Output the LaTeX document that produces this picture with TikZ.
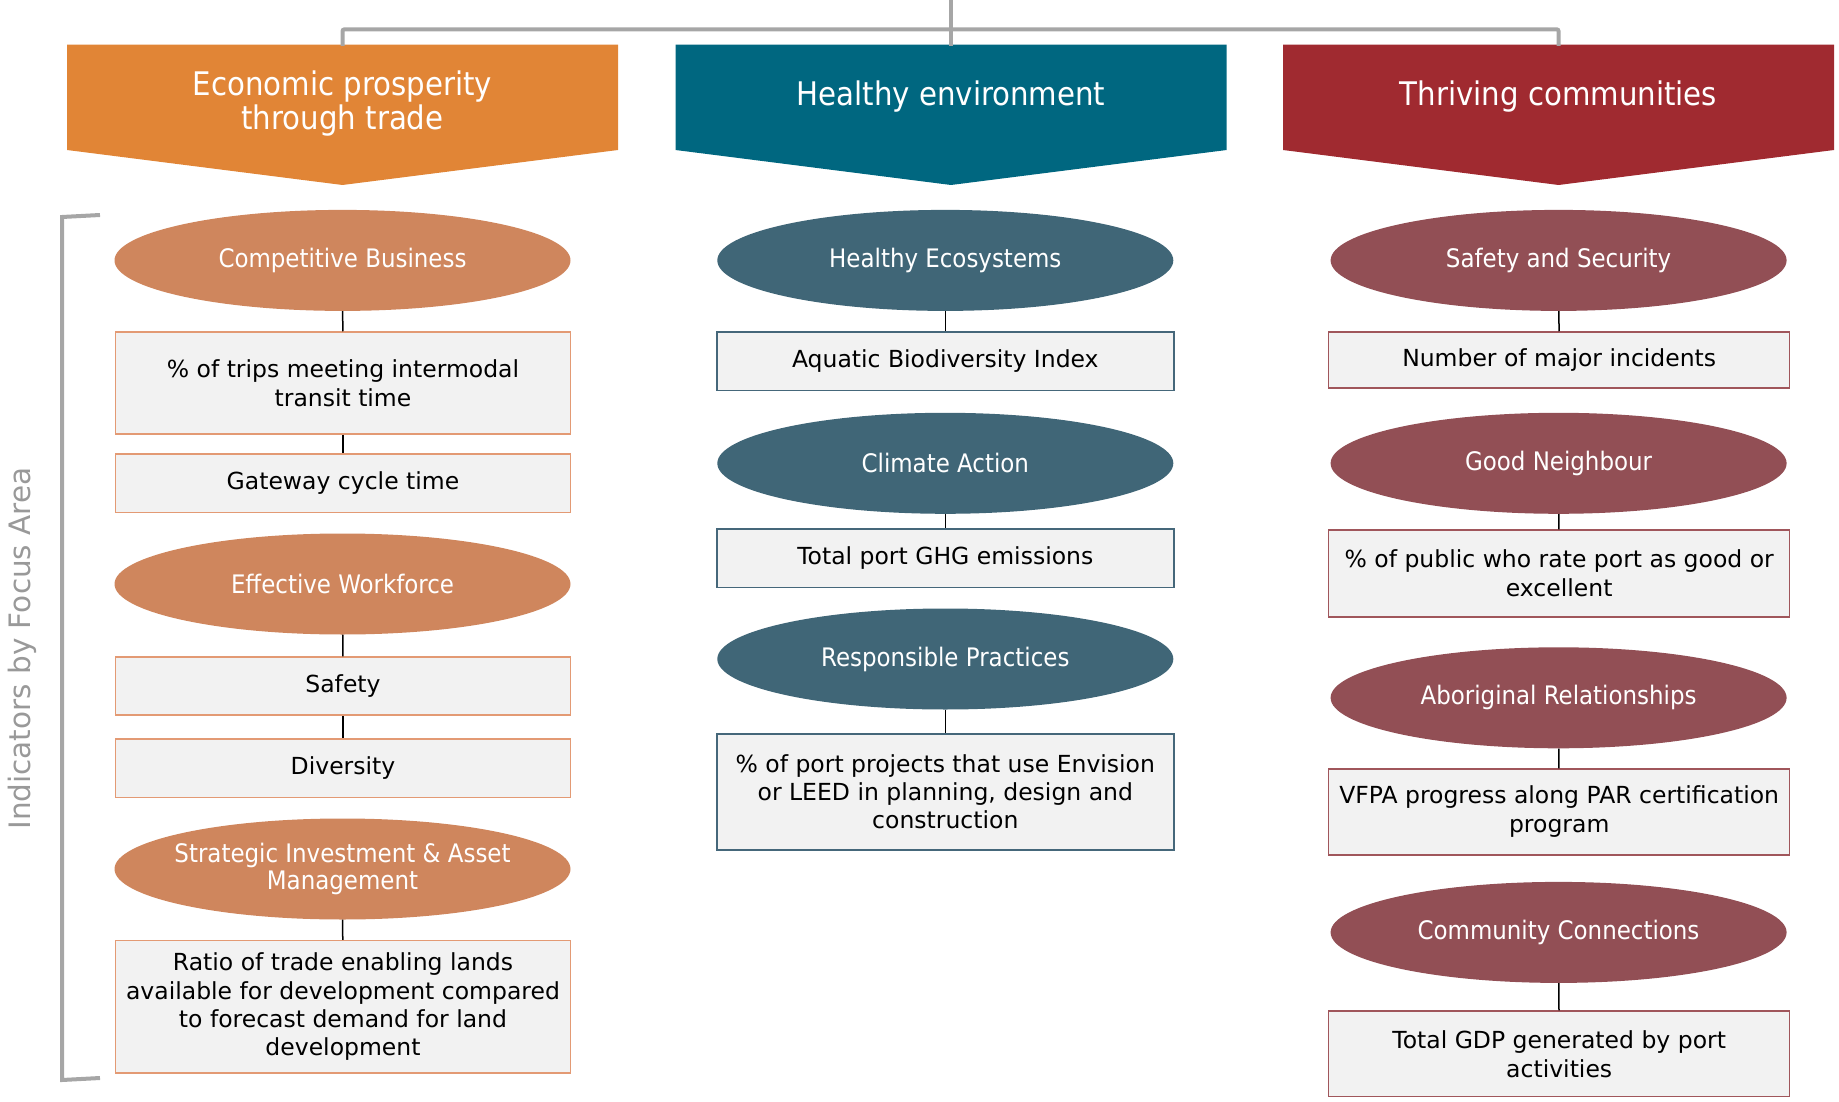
\documentclass[tikz,border=0pt]{standalone}
\usepackage{fontspec}
\setmainfont{DejaVu Sans}
\newfontfamily\condfont{DejaVu Sans Condensed}
\usetikzlibrary{shapes.geometric}
\definecolor{orH}{HTML}{E18536}
\definecolor{teH}{HTML}{006780}
\definecolor{reH}{HTML}{A02A30}
\definecolor{orE}{HTML}{CF865D}
\definecolor{teE}{HTML}{406677}
\definecolor{reE}{HTML}{924F55}
\definecolor{orB}{HTML}{E39A74}
\definecolor{teB}{HTML}{45677A}
\definecolor{reB}{HTML}{A0565B}
\definecolor{boxfill}{HTML}{F2F2F2}
\definecolor{greyline}{HTML}{A6A6A6}
\definecolor{greytext}{HTML}{999999}
\begin{document}
\begin{tikzpicture}[x=1pt,y=-1pt,
  hdrtext/.style={text=white, align=center, font=\condfont\fontsize{32.5}{34}\selectfont},
  ell/.style={ellipse, minimum width=456pt, minimum height=101pt, inner sep=0pt, text=white, align=center, font=\condfont\fontsize{25.5}{27}\selectfont},
  ind/.style={rectangle, fill=boxfill, line width=1.5pt, minimum width=455pt, inner sep=0pt, align=center, font=\fontsize{23.5}{29}\selectfont},
  link/.style={draw=black, line width=1.5pt},
  grey/.style={draw=greyline, line width=4pt}
]
\useasboundingbox (0,0) rectangle (1839,1102);

% chevrons
\fill[orH] (67,44.6) -- (618,44.6) -- (618,150) -- (342.5,185) -- (67,150) -- cycle;
\fill[teH] (675.5,44.6) -- (1226.7,44.6) -- (1226.7,150) -- (951,185) -- (675.5,150) -- cycle;
\fill[reH] (1283,44.6) -- (1834,44.6) -- (1834,150) -- (1558.6,185) -- (1283,150) -- cycle;

\node[hdrtext] (h1) at (342.5,104) {Economic prosperity\\through trade};
\node[hdrtext] (h2) at (951,97) {Healthy environment};
\node[hdrtext] (h3) at (1558.6,97) {Thriving communities};

% top connector
\coordinate (top) at (951,0);
\coordinate (c1) at (342.5,46);
\coordinate (c2) at (951,46);
\coordinate (c3) at (1558.6,46);
\draw[grey] (top) -- (c2);
\draw[grey, rounded corners=2pt] (c1) -- (342.5,29.3) -- (1558.6,29.3) -- (c3);

% bracket
\coordinate (bt) at (100,215);
\coordinate (bb) at (100,1078);
\draw[grey] (bt) -- (62,217) -- (62,1080) -- (bb);
\node[rotate=90, text=greytext, font=\fontsize{29.5}{32}\selectfont] (lbl) at (22.5,648.6) {Indicators by Focus Area};

% column 1
\node[ell, fill=orE] (e11) at (342.5,260.4) {Competitive Business};
\node[ind, draw=orB, minimum height=102pt] (b11) at (343,383) {\% of trips meeting intermodal\\transit time};
\node[ind, draw=orB, minimum height=58.5pt] (b12) at (343,483.2) {Gateway cycle time};
\node[ell, fill=orE] (e12) at (342.5,584) {Effective Workforce};
\node[ind, draw=orB, minimum height=58pt] (b13) at (343,686) {Safety};
\node[ind, draw=orB, minimum height=58.5pt] (b14) at (343,768.2) {Diversity};
\node[ell, fill=orE, inner xsep=-60pt] (e13) at (342.5,869) {Strategic Investment \& Asset\\Management};
\node[ind, draw=orB, minimum height=132.4pt, font=\fontsize{23.5}{28.2}\selectfont] (b15) at (343,1006.8) {Ratio of trade enabling lands\\available for development compared\\to forecast demand for land\\development};
\draw[link] (e11) -- (b11);
\draw[link] (b11) -- (b12);
\draw[link] (e12) -- (b13);
\draw[link] (b13) -- (b14);
\draw[link] (e13) -- (b15);

% column 2
\node[ell, fill=teE] (e21) at (945.3,260.4) {Healthy Ecosystems};
\node[ind, draw=teB, minimum width=457pt, minimum height=58.5pt] (b21) at (945.3,361.2) {Aquatic Biodiversity Index};
\node[ell, fill=teE] (e22) at (945.3,463.3) {Climate Action};
\node[ind, draw=teB, minimum width=457pt, minimum height=58.6pt] (b22) at (945.3,558.3) {Total port GHG emissions};
\node[ell, fill=teE] (e23) at (945.3,659) {Responsible Practices};
\node[ind, draw=teB, minimum width=457pt, minimum height=116pt, font=\fontsize{23.5}{28.2}\selectfont] (b23) at (945.3,792) {\% of port projects that use Envision\\or LEED in planning, design and\\construction};
\draw[link] (e21) -- (b21);
\draw[link] (e22) -- (b22);
\draw[link] (e23) -- (b23);

% column 3
\node[ell, fill=reE] (e31) at (1558.6,260.4) {Safety and Security};
\node[ind, draw=reB, minimum width=461pt, minimum height=56pt] (b31) at (1559.2,360) {Number of major incidents};
\node[ell, fill=reE] (e32) at (1558.6,463.3) {Good Neighbour};
\node[ind, draw=reB, minimum width=461pt, minimum height=87pt] (b32) at (1559.2,573.5) {\% of public who rate port as good or\\excellent};
\node[ell, fill=reE] (e33) at (1558.6,697.8) {Aboriginal Relationships};
\node[ind, draw=reB, minimum width=461pt, minimum height=86pt] (b33) at (1559.2,812) {VFPA progress along PAR certification\\program};
\node[ell, fill=reE] (e34) at (1558.6,932.4) {Community Connections};
\node[ind, draw=reB, minimum width=461pt, minimum height=85.6pt] (b34) at (1559.2,1053.8) {Total GDP generated by port\\activities};
\draw[link] (e31) -- (b31);
\draw[link] (e32) -- (b32);
\draw[link] (e33) -- (b33);
\draw[link] (e34) -- (b34);
\end{tikzpicture}
\end{document}
